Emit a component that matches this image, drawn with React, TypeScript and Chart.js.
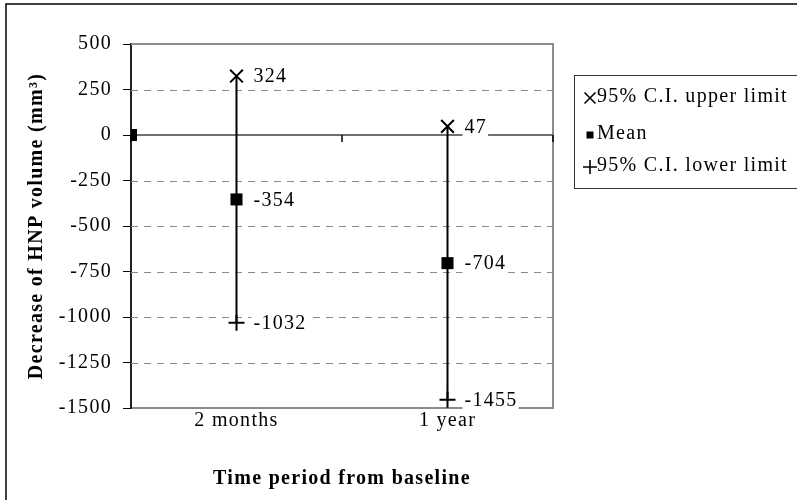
import React, { useEffect, useRef } from "react";
import { Chart, registerables } from "chart.js";

Chart.register(...registerables);

const categories = ["2 months", "1 year"];
const baselineMean = 0;
const upperLimit = [324, 47];
const meanValues = [-354, -704];
const lowerLimit = [-1032, -1455];
const yMin = -1500;
const yMax = 500;
const yStep = 250;
const seriesLabels = ["95% C.I. upper limit", "Mean", "95% C.I. lower limit"];
const xTitle = "Time period from baseline";
const yTitle = "Decrease of HNP volume (mm³)";

const FONT = "'Liberation Serif', 'Times New Roman', serif";
const SPACING = "1.3px";

function drawMarker(ctx: CanvasRenderingContext2D, style: string, x: number, y: number, r: number) {
  ctx.save();
  ctx.strokeStyle = "#000";
  ctx.fillStyle = "#000";
  ctx.lineWidth = 1.6;
  ctx.beginPath();
  if (style === "crossRot") {
    ctx.moveTo(x - r, y - r);
    ctx.lineTo(x + r, y + r);
    ctx.moveTo(x - r, y + r);
    ctx.lineTo(x + r, y - r);
    ctx.stroke();
  } else if (style === "cross") {
    ctx.moveTo(x - r, y);
    ctx.lineTo(x + r, y);
    ctx.moveTo(x, y - r);
    ctx.lineTo(x, y + r);
    ctx.stroke();
  } else {
    ctx.fillRect(x - r, y - r, 2 * r, 2 * r);
  }
  ctx.restore();
}

function setSpacing(chart: any) {
  const ctx = chart.ctx as any;
  if (ctx && "letterSpacing" in ctx) ctx.letterSpacing = SPACING;
}

const framePlugin = {
  id: "frame",
  beforeUpdate(chart: any) {
    setSpacing(chart);
  },
  beforeLayout(chart: any) {
    setSpacing(chart);
  },
  beforeDraw(chart: any) {
    setSpacing(chart);
    const ctx = chart.ctx;
    ctx.save();
    ctx.fillStyle = "#fff";
    ctx.fillRect(0, 0, chart.width, chart.height);
    ctx.strokeStyle = "#000";
    ctx.lineWidth = 1.5;
    ctx.beginPath();
    ctx.moveTo(6, chart.height + 5);
    ctx.lineTo(6, 4);
    ctx.lineTo(chart.width + 5, 4);
    ctx.stroke();
    ctx.restore();
  },
};

const gridPlugin = {
  id: "customGrid",
  beforeDatasetsDraw(chart: any) {
    const ctx = chart.ctx;
    const { left, right, top, bottom } = chart.chartArea;
    const y = chart.scales.y;
    const x = chart.scales.x;
    ctx.save();
    ctx.strokeStyle = "#8a8a8a";
    ctx.lineWidth = 1;
    ctx.setLineDash([7, 6]);
    for (let v = yMin + yStep; v < yMax; v += yStep) {
      if (v === 0) continue;
      const py = Math.round(y.getPixelForValue(v)) + 0.5;
      ctx.beginPath();
      ctx.moveTo(left, py);
      ctx.lineTo(right, py);
      ctx.stroke();
    }
    ctx.setLineDash([]);
    ctx.strokeStyle = "#8c8c8c";
    ctx.lineWidth = 2;
    ctx.beginPath();
    ctx.moveTo(left, top);
    ctx.lineTo(right, top);
    ctx.lineTo(right, bottom);
    ctx.stroke();
    const py0 = y.getPixelForValue(0);
    ctx.strokeStyle = "#707070";
    ctx.lineWidth = 2;
    ctx.beginPath();
    ctx.moveTo(left, py0);
    ctx.lineTo(right, py0);
    ctx.stroke();
    ctx.strokeStyle = "#000";
    ctx.lineWidth = 1.5;
    for (let i = 0; i <= categories.length; i++) {
      const px = x.getPixelForValue(i - 0.5);
      ctx.beginPath();
      ctx.moveTo(px, py0);
      ctx.lineTo(px, py0 + 7);
      ctx.stroke();
    }
    ctx.strokeStyle = "#000";
    ctx.lineWidth = 2;
    categories.forEach((_, i) => {
      const px = x.getPixelForValue(i);
      ctx.beginPath();
      ctx.moveTo(px, y.getPixelForValue(upperLimit[i]));
      ctx.lineTo(px, y.getPixelForValue(lowerLimit[i]));
      ctx.stroke();
    });
    ctx.restore();
  },
};

const labelPlugin = {
  id: "valueLabels",
  afterDatasetsDraw(chart: any) {
    const ctx = chart.ctx;
    ctx.save();
    ctx.font = `20px ${FONT}`;
    ctx.textBaseline = "middle";
    ctx.textAlign = "left";
    chart.data.datasets.forEach((ds: any, di: number) => {
      const meta = chart.getDatasetMeta(di);
      ds.data.forEach((d: any, j: number) => {
        if (!d.showLabel) return;
        const el = meta.data[j];
        const text = String(d.y);
        const tx = el.x + 17;
        const ty = el.y + 1;
        const w = ctx.measureText(text).width;
        ctx.fillStyle = "#fff";
        ctx.fillRect(tx - 2, ty - 9, w + 3, 18);
        ctx.fillStyle = "#000";
        ctx.fillText(text, tx, ty);
      });
    });
    ctx.restore();
  },
};

const legendPlugin = {
  id: "customLegend",
  afterDraw(chart: any) {
    const ctx = chart.ctx;
    ctx.save();
    ctx.strokeStyle = "#333";
    ctx.lineWidth = 1;
    ctx.strokeRect(574.5, 75.5, 300, 113);
    ctx.font = `20px ${FONT}`;
    ctx.textBaseline = "middle";
    ctx.textAlign = "left";
    ctx.fillStyle = "#000";
    const rows = [97, 134, 166];
    const sizes = [5.5, 3.5, 7];
    chart.data.datasets.forEach((ds: any, i: number) => {
      drawMarker(ctx, ds.pointStyle, 590, rows[i] + 1, sizes[i]);
      ctx.fillStyle = "#000";
      ctx.fillText(ds.label, 597, rows[i]);
    });
    ctx.restore();
  },
};

export default function App() {
  const ref = useRef<HTMLCanvasElement>(null);
  useEffect(() => {
    document.body.style.margin = "0";
    if (!ref.current) return;
    const chart = new Chart(ref.current, {
      type: "scatter",
      data: {
        datasets: [
          {
            label: seriesLabels[0],
            data: categories.map((_, i) => ({ x: i, y: upperLimit[i], showLabel: true })),
            pointStyle: "crossRot",
            pointRadius: 9,
            pointBorderWidth: 2,
            pointBorderColor: "#000",
            pointBackgroundColor: "#000",
            showLine: false,
          },
          {
            label: seriesLabels[1],
            data: [
              { x: -0.5, y: baselineMean, showLabel: false },
              ...categories.map((_, i) => ({ x: i, y: meanValues[i], showLabel: true })),
            ],
            pointStyle: "rect",
            pointRadius: 8.5,
            pointBorderWidth: 0,
            pointBorderColor: "#000",
            pointBackgroundColor: "#000",
            showLine: false,
          },
          {
            label: seriesLabels[2],
            data: categories.map((_, i) => ({ x: i, y: lowerLimit[i], showLabel: true })),
            pointStyle: "cross",
            pointRadius: 8,
            pointBorderWidth: 2,
            pointBorderColor: "#000",
            pointBackgroundColor: "#000",
            showLine: false,
          },
        ] as any,
      },
      options: {
        responsive: false,
        animation: false,
        layout: { padding: { left: 0, right: 244, top: 44, bottom: 0 } },
        plugins: { legend: { display: false }, tooltip: { enabled: false } },
        scales: {
          x: {
            type: "linear",
            min: -0.5,
            max: 1.5,
            afterBuildTicks: (s: any) => {
              s.ticks = categories.map((_, i) => ({ value: i }));
            },
            afterFit: (s: any) => {
              s.height = 92;
            },
            ticks: {
              callback: (v: any) => categories[v as number] ?? "",
              font: { family: FONT, size: 20 },
              color: "#000",
              padding: 1,
              maxRotation: 0,
              autoSkip: false,
            },
            grid: { display: false, drawTicks: false },
            border: { display: true, color: "#8c8c8c", width: 2 },
            title: {
              display: true,
              text: xTitle,
              color: "#000",
              font: { family: FONT, size: 20, weight: "bold" },
              padding: { top: 0, bottom: 9 },
            },
          },
          y: {
            min: yMin,
            max: yMax,
            afterFit: (s: any) => {
              s.width = 131;
            },
            ticks: {
              stepSize: yStep,
              callback: (v: any) => String(v),
              font: { family: FONT, size: 20 },
              color: "#000",
              padding: 11,
            },
            grid: {
              display: true,
              drawOnChartArea: false,
              drawTicks: true,
              tickLength: 8,
              tickColor: "#000",
              tickWidth: 1,
              lineWidth: 1,
            },
            border: { display: true, color: "#222", width: 2 },
            title: {
              display: true,
              text: yTitle,
              color: "#000",
              font: { family: FONT, size: 20, weight: "bold" },
              padding: { top: 25, bottom: 0 },
            },
          },
        },
      },
      plugins: [framePlugin, gridPlugin, labelPlugin, legendPlugin],
    } as any);
    return () => chart.destroy();
  }, []);
  return <canvas ref={ref} width={797} height={500} style={{ display: "block" }} />;
}
